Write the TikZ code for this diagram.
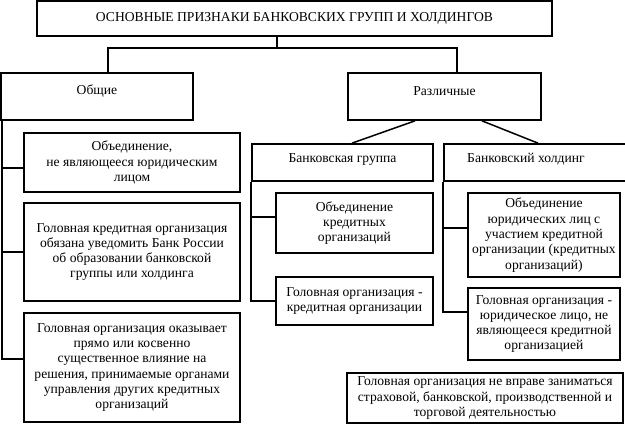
\documentclass[tikz,border=0pt]{standalone}
\usepackage{fontspec}
\setmainfont{Liberation Serif}
\begin{document}
\begin{tikzpicture}[x=1pt, y=-1pt,
		box/.style={draw, line width=1.7pt, align=center, inner sep=0pt, font=\fontsize{13.6}{15.3}\selectfont},
		link/.style={line width=1.5pt}]
			\useasboundingbox (0,0) rectangle (625,434);
			%top level
			\node[box, minimum width=515pt, minimum height=35pt] (title) at (294.5,18.5) {ОСНОВНЫЕ ПРИЗНАКИ БАНКОВСКИХ ГРУПП И ХОЛДИНГОВ};
			\node[box, minimum width=192pt, minimum height=47pt] (common) at (97,96.5) {\raisebox{5.5pt}[\height][\depth]{Общие}};
			\node[box, minimum width=193pt, minimum height=47pt] (diff) at (444.5,96.5) {\raisebox{5.5pt}[\height][\depth]{Различные}};
			%common features
			\node[box, minimum width=216pt, minimum height=59pt] (union) at (132,162.5) {Объединение,\\ не являющееся юридическим\\ лицом};
			\node[box, minimum width=216pt, minimum height=98pt] (notify) at (132,252) {Головная кредитная организация\\ обязана уведомить Банк России\\ об образовании банковской\\ группы или холдинга};
			\node[box, minimum width=216pt, minimum height=109pt] (influence) at (132,367.5) {Головная организация оказывает\\ прямо или косвенно\\ существенное влияние на\\ решения, принимаемые органами\\ управления других кредитных\\ организаций};
			%differences
			\node[box, minimum width=181pt, minimum height=37pt] (group) at (342.5,162.5) {\raisebox{3pt}[\height][\depth]{Банковская группа}};
			\node[box, minimum width=184pt, minimum height=37pt] (holding) at (536,162.5) {\raisebox{3pt}[\height][\depth]{Банковский холдинг}\hspace*{20pt}};
			\node[box, minimum width=157pt, minimum height=60pt] (gunion) at (354.5,223) {Объединение\\ кредитных\\ организаций};
			\node[box, minimum width=157pt, minimum height=48pt] (ghead) at (354.5,301) {Головная организация -\\ кредитная организации};
			\node[box, minimum width=152pt, minimum height=84pt] (hunion) at (544,235) {Объединение\\ юридических лиц с\\ участием кредитной\\ организации (кредитных\\ организаций)};
			\node[box, minimum width=152pt, minimum height=72pt] (hhead) at (544,324) {Головная организация -\\ юридическое лицо, не\\ являющееся кредитной\\ организацией};
			\node[box, minimum width=276pt, minimum height=50pt] (ban) at (485,398) {Головная организация не вправе заниматься\\ страховой, банковской, производственной и\\ торговой деятельностью};
			%connectors from the title
			\coordinate (split) at (277,48);
			\coordinate (tl) at (108,48);
			\coordinate (tr) at (457,48);
			\draw[link] (split |- title.south) -- (split);
			\draw[link] (tl |- common.north) -- (tl) -- (tr) -- (tr |- diff.north);
			\draw[link] ([xshift=-29.5pt]diff.south) -- ([xshift=9.5pt]group.north);
			\draw[link] ([xshift=37.5pt]diff.south) -- ([xshift=2pt]holding.north);
			%left column
			\coordinate (cl) at (2,120);
			\draw[link] ([yshift=-5.5pt]union.west) -| (cl);
			\draw[link] (notify.west) -| (cl);
			\draw[link] ([yshift=8.5pt]influence.west) -| (cl);
			%group and holding columns
			\draw[link] ([yshift=6pt]gunion.west) -| (group.south west);
			\draw[link] (ghead.west) -| (group.south west);
			\draw[link] ([yshift=7pt]hunion.west) -| (holding.south west);
			\draw[link] ([yshift=12pt]hhead.west) -| (holding.south west);
		\end{tikzpicture}
\end{document}
